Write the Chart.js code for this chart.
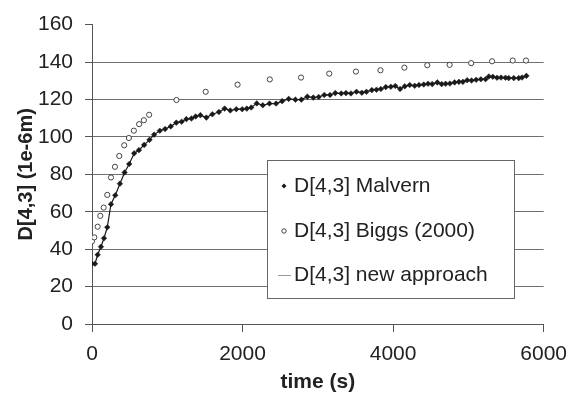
<!DOCTYPE html>
<html lang="en">
<head>
  <meta charset="UTF-8">
  <title>D[4,3] vs time</title>
  <script src="https://cdn.jsdelivr.net/npm/chart.js"></script>
  <style>
    body {
      margin: 0;
      background: #fff;
    }
    #chart-container {
      width: 577px;
      height: 396px;
    }
  </style>
</head>
<body>
  <div id="chart-container">
    <canvas id="d43Chart" width="577" height="396"></canvas>
  </div>
  <script>
    // Malvern measurements (time in s, D[4,3] in 1e-6 m)
    const malvernTime = [0, 40, 75, 119, 159, 203, 252, 309, 371, 433, 494, 560, 623, 693, 764, 825, 901, 971, 1046, 1120,
      1190, 1254, 1321, 1377, 1440, 1519, 1599, 1686, 1762, 1837, 1917, 1996, 2057, 2115, 2189, 2269, 2358, 2446, 2526, 2613,
      2702, 2781, 2861, 2940, 3011, 3086, 3162, 3232, 3311, 3374, 3440, 3514, 3585, 3646, 3718, 3779, 3837, 3903, 3970, 4030,
      4093, 4155, 4221, 4287, 4344, 4407, 4464, 4520, 4587, 4645, 4698, 4755, 4817, 4874, 4927, 4984, 5042, 5103, 5166, 5228,
      5272, 5325, 5381, 5434, 5493, 5536, 5603, 5669, 5713, 5771];
    const malvernD43 = [32.2, 32.2, 37, 41.3, 45.8, 51.7, 64, 68.8, 75, 81, 85.5, 91.2, 92.9, 95.7, 98.4, 101.2, 103.3, 104.2, 105.6, 107.6,
      108.1, 109.5, 109.8, 110.9, 111.6, 110.3, 112.1, 113.3, 115.1, 114.1, 114.8, 114.8, 115.1, 115.7, 117.9, 116.9, 117.8, 117.8, 119.1, 120.3,
      119.9, 119.9, 121.5, 121.0, 121.3, 122.4, 122.4, 123.4, 123.2, 123.4, 123.2, 124.1, 123.6, 124.1, 125.0, 125.2, 125.6, 126.6, 126.8, 127.2,
      125.6, 127.0, 127.7, 127.3, 127.7, 128.0, 128.4, 128.2, 129.1, 128.2, 128.4, 128.5, 129.1, 129.4, 129.4, 130.3, 130.1, 130.5, 130.8, 130.8,
      132.3, 132.1, 131.6, 131.7, 131.6, 131.4, 131.4, 131.4, 131.7, 132.6];

    // Biggs (2000)
    const biggsTime = [0, 30, 75, 110, 155, 203, 252, 305, 362, 428, 490, 556, 626, 689, 759,
      1122, 1510, 1934, 2362, 2777, 3152, 3506, 3832, 4150, 4454, 4751, 5037, 5315, 5589, 5766];
    const biggsD43 = [44.2, 46.3, 52, 57.8, 62.2, 69, 78.3, 84, 89.8, 95.5, 99.4, 103.3, 106.8, 108.9, 111.8,
      119.7, 124.1, 127.9, 130.7, 131.7, 133.8, 134.9, 135.6, 137.0, 138.3, 138.5, 139.4, 140.4, 140.8, 140.8];

    // new approach: listed in the legend, no visible points
    const newTime = [];
    const newD43 = [];

    const seriesLabels = ["D[4,3] Malvern", "D[4,3] Biggs (2000)", "D[4,3] new approach"];
    const xTicks = [0, 2000, 4000, 6000];
    const yTicks = [0, 20, 40, 60, 80, 100, 120, 140, 160];

    const toPoints = (xs, ys) => xs.map((x, i) => ({ x: x, y: ys[i] }));

    const textColor = "#222";
    const axisColor = "#555";
    const fontFamily = "'Liberation Sans', Arial, sans-serif";

    // legend drawn as a framed box inside the plot, like the original
    const boxLegend = {
      id: "boxLegend",
      afterDraw(chart) {
        const ctx = chart.ctx;
        const left = 267, top = 160, right = 514, bottom = 298;
        ctx.save();
        ctx.fillStyle = "#fff";
        ctx.fillRect(left, top, right - left, bottom - top);
        ctx.strokeStyle = "#666";
        ctx.lineWidth = 1;
        ctx.strokeRect(left + 0.5, top + 0.5, right - left, bottom - top);

        const rows = [186, 231, 275];
        ctx.font = "21px " + fontFamily;
        ctx.textBaseline = "middle";
        ctx.textAlign = "left";
        rows.forEach((y, i) => {
          const ds = chart.data.datasets[i];
          if (i === 0) {
            // small filled diamond
            ctx.fillStyle = ds.pointBackgroundColor;
            ctx.beginPath();
            ctx.moveTo(284, y - 2.5);
            ctx.lineTo(286.5, y);
            ctx.lineTo(284, y + 2.5);
            ctx.lineTo(281.5, y);
            ctx.closePath();
            ctx.fill();
          } else if (i === 1) {
            ctx.strokeStyle = ds.pointBorderColor;
            ctx.lineWidth = 1;
            ctx.beginPath();
            ctx.arc(284, y, 2.2, 0, Math.PI * 2);
            ctx.stroke();
          } else {
            ctx.strokeStyle = ds.borderColor;
            ctx.lineWidth = 1;
            ctx.beginPath();
            ctx.moveTo(278, y + 0.5);
            ctx.lineTo(291, y + 0.5);
            ctx.stroke();
          }
          ctx.fillStyle = textColor;
          ctx.fillText(ds.label, 294, y);
        });
        ctx.restore();
      }
    };

    new Chart(document.getElementById("d43Chart").getContext("2d"), {
      type: "scatter",
      data: {
        datasets: [
          {
            label: seriesLabels[0],
            data: toPoints(malvernTime, malvernD43),
            showLine: true,
            borderColor: "#1a1a1a",
            borderWidth: 1.2,
            pointStyle: "rectRot",
            pointRadius: 2.8,
            pointBackgroundColor: "#1a1a1a",
            pointBorderColor: "#1a1a1a",
            pointBorderWidth: 0.5,
            tension: 0,
          },
          {
            label: seriesLabels[1],
            data: toPoints(biggsTime, biggsD43),
            showLine: false,
            pointStyle: "circle",
            pointRadius: 2.6,
            pointBackgroundColor: "#fff",
            pointBorderColor: "#444",
            pointBorderWidth: 1,
          },
          {
            label: seriesLabels[2],
            data: toPoints(newTime, newD43),
            showLine: true,
            borderColor: "#999",
            borderWidth: 1,
            pointRadius: 0,
          },
        ],
      },
      options: {
        responsive: false,
        animation: false,
        layout: {
          padding: { top: 21, right: 30, left: 0, bottom: 0 },
        },
        plugins: {
          legend: { display: false },
          tooltip: { enabled: false },
        },
        scales: {
          x: {
            type: "linear",
            min: 0,
            max: 6000,
            afterBuildTicks: (scale) => {
              scale.ticks = xTicks.map(v => ({ value: v }));
            },
            afterFit: (scale) => {
              scale.height = 72;
            },
            ticks: {
              color: textColor,
              font: { family: fontFamily, size: 21 },
              padding: 10,
              maxRotation: 0,
              callback: (v) => String(v),
            },
            grid: {
              drawOnChartArea: false,
              drawTicks: true,
              tickLength: 8,
              color: axisColor,
            },
            border: { display: true, color: axisColor },
            title: {
              display: true,
              text: "time (s)",
              color: textColor,
              font: { family: fontFamily, size: 21, weight: "bold" },
              padding: { top: 0, bottom: 1 },
            },
          },
          y: {
            min: 0,
            max: 160,
            afterBuildTicks: (scale) => {
              scale.ticks = yTicks.map(v => ({ value: v }));
            },
            afterFit: (scale) => {
              scale.width = 92;
            },
            ticks: {
              color: textColor,
              font: { family: fontFamily, size: 21 },
              padding: 12,
            },
            grid: {
              color: (c) => (c.tick && c.tick.value === 160 ? "rgba(0,0,0,0)" : "#6f6f6f"),
              tickColor: axisColor,
              drawTicks: true,
              tickLength: 7,
            },
            border: { display: true, color: axisColor },
            title: {
              display: true,
              text: "D[4,3] (1e-6m)",
              color: textColor,
              font: { family: fontFamily, size: 20, weight: "bold" },
              padding: { top: 14, bottom: 0 },
            },
          },
        },
      },
      plugins: [boxLegend],
    });
  </script>
</body>
</html>
